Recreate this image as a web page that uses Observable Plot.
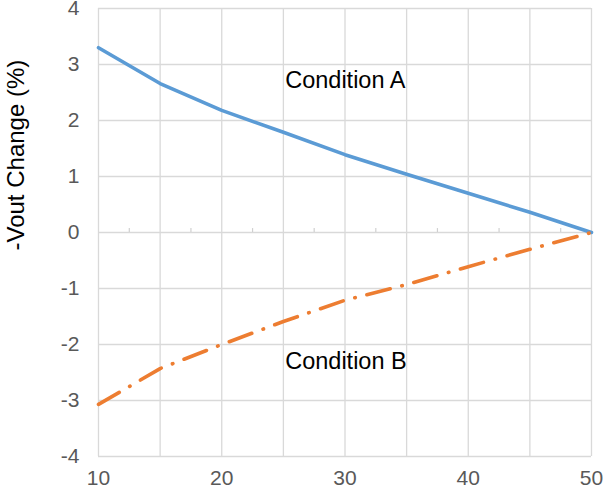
<!DOCTYPE html>
<html>
<head>
<meta charset="utf-8">
<script src="https://cdn.jsdelivr.net/npm/d3@7"></script>
<script src="https://cdn.jsdelivr.net/npm/@observablehq/plot@0.6"></script>
<style>
  html, body { margin: 0; padding: 0; background: #fff; }
  #chart svg { display: block; }
</style>
</head>
<body>
<div id="chart"></div>
<script>
const temps = [10, 15, 20, 25, 30, 35, 40, 45, 50];
const conditionA = [3.30, 2.66, 2.18, 1.79, 1.39, 1.04, 0.70, 0.36, 0.00];
const conditionB = [-3.07, -2.43, -2.00, -1.59, -1.21, -0.93, -0.61, -0.30, 0.00];
const xTicks = [10, 20, 30, 40, 50];
const xGrid = [10, 15, 20, 25, 30, 35, 40, 45, 50];
const minorTicks = [12.5, 17.5, 22.5, 27.5, 32.5, 37.5, 42.5, 47.5];
const yTicks = [-4, -3, -2, -1, 0, 1, 2, 3, 4];
const labels = [
  {x: 25.15, y: 2.71, text: "Condition A"},
  {x: 25.15, y: -2.31, text: "Condition B"}
];
const yLabel = "-Vout Change (%)";

const dataA = temps.map((t, i) => ({x: t, y: conditionA[i]}));
const dataB = temps.map((t, i) => ({x: t, y: conditionB[i]}));
const minorData = minorTicks.map(t => ({x: t, y1: 0, y2: 0.07}));

const chart = Plot.plot({
  width: 603,
  height: 495,
  marginLeft: 98,
  marginRight: 12,
  marginTop: 8,
  marginBottom: 39,
  style: {fontFamily: "Liberation Sans, Arial, sans-serif", background: "#fff"},
  x: {type: "linear", domain: [10, 50], axis: null},
  y: {type: "linear", domain: [-4, 4], axis: null},
  marks: [
    Plot.ruleX(xGrid, {x: d => d, stroke: "#d9d9d9", strokeWidth: 1.3}),
    Plot.ruleY(yTicks, {y: d => d, stroke: "#d9d9d9", strokeWidth: 1.3}),
    Plot.ruleX(minorData, {x: "x", y1: "y1", y2: "y2", stroke: "#d0d0d0", strokeWidth: 1.2}),
    Plot.line(dataA, {x: "x", y: "y", stroke: "#5b9bd5", strokeWidth: 3.6, curve: "linear"}),
    Plot.line(dataB, {x: "x", y: "y", stroke: "#ed7d31", strokeWidth: 3.6, strokeDasharray: "24 12 0.5 12", strokeLinecap: "round"}),
    Plot.text(labels, {x: "x", y: "y", text: "text", textAnchor: "start", fontSize: 23.5, fill: "#000"}),
    Plot.axisX(xTicks, {tickSize: 0, tickPadding: 14, fontSize: 21, color: "#595959", label: null, tickFormat: d => String(d)}),
    Plot.axisY(yTicks, {tickSize: 0, tickPadding: 19, fontSize: 21, color: "#595959", label: null, tickFormat: d => String(d)}),
    Plot.text([yLabel], {frameAnchor: "left", dx: -82, dy: 18, rotate: -90, fontSize: 24, fill: "#000"})
  ]
});
document.getElementById("chart").appendChild(chart);
</script>
</body>
</html>
